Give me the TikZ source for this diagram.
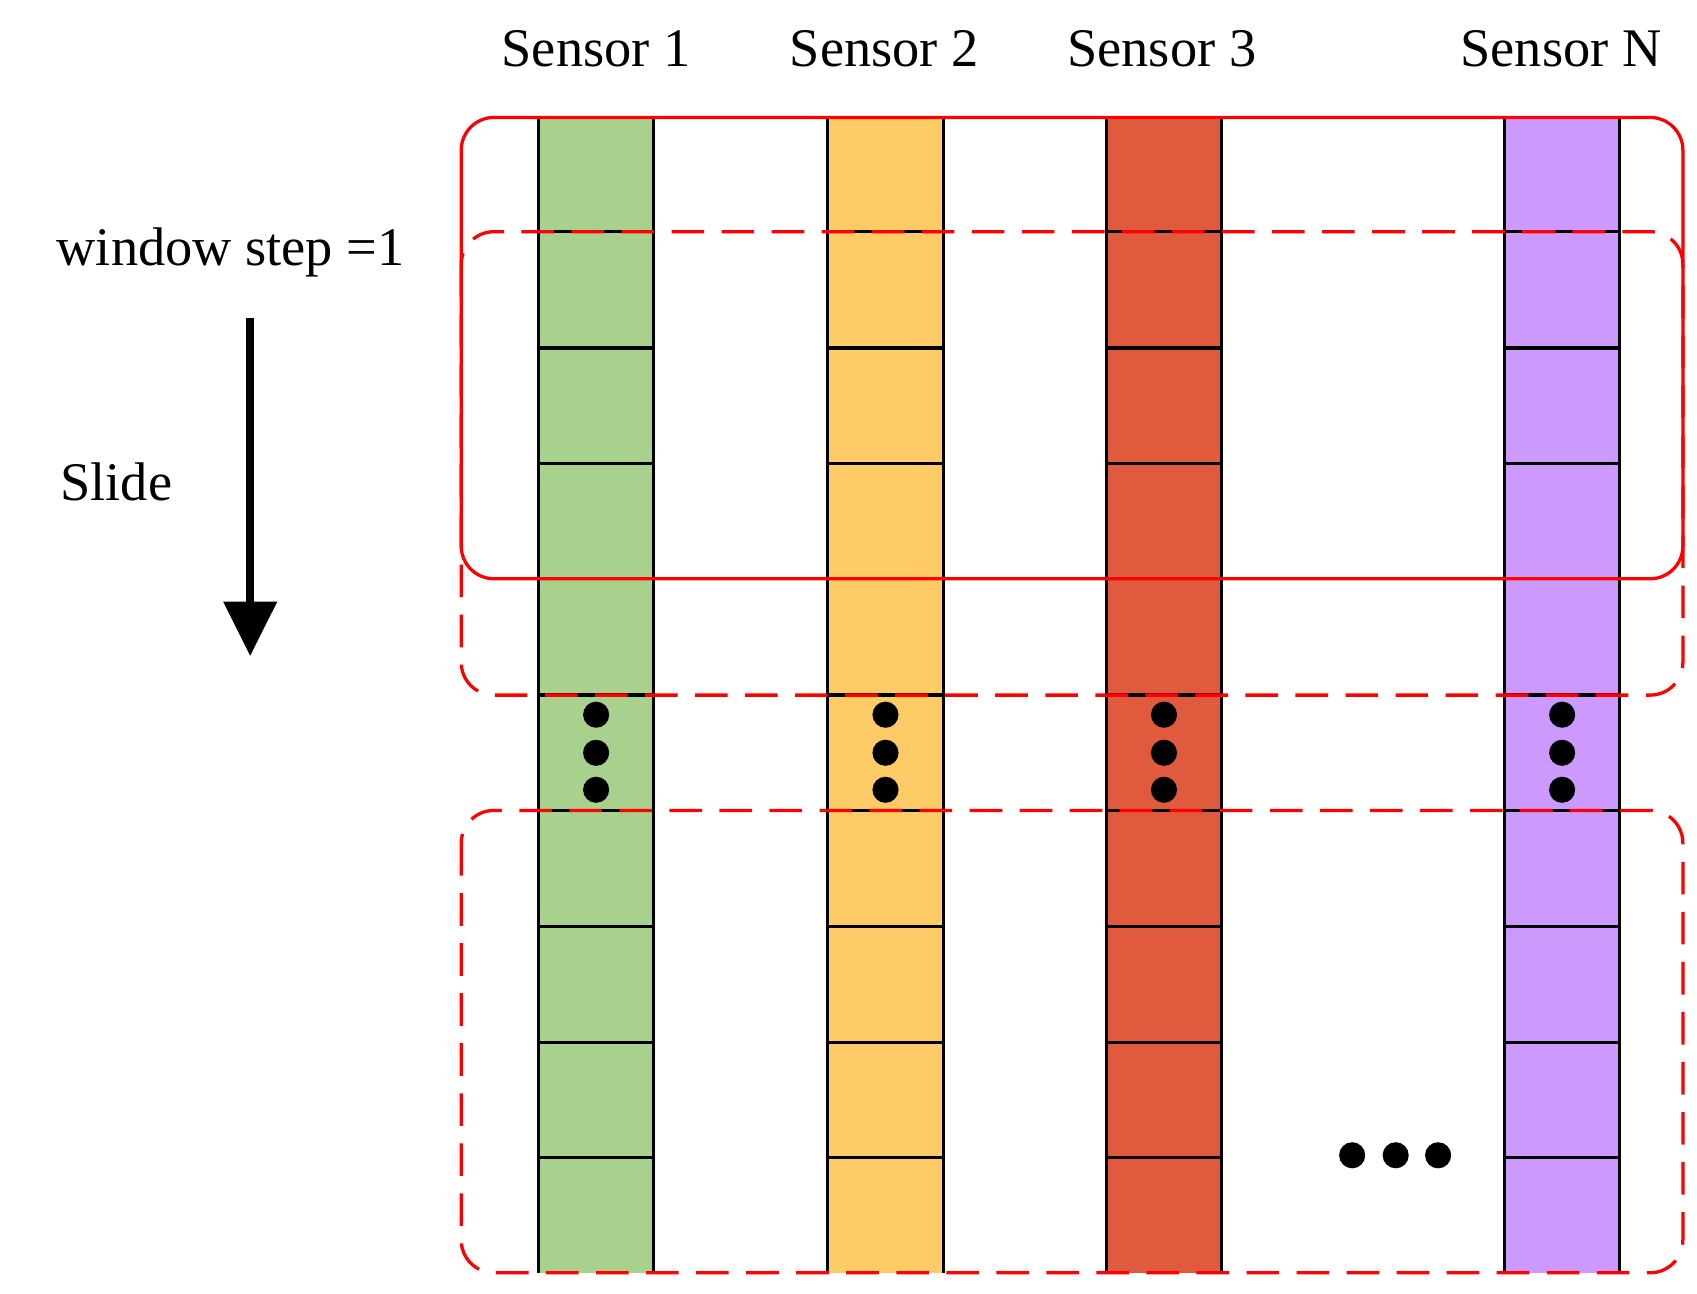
\documentclass[tikz,border=0pt]{standalone}
\usepackage{fontspec}
\setmainfont{Liberation Serif}
\usetikzlibrary{arrows.meta}
\definecolor{cg}{HTML}{A9D18E}
\definecolor{cy}{HTML}{FECB66}
\definecolor{cr}{HTML}{E05A3D}
\definecolor{cp}{HTML}{CC99FF}
\begin{document}
\begin{tikzpicture}[x=1pt,y=-1pt,
  lab/.style={font=\fontsize{50}{50}\selectfont,inner sep=0pt},
  win/.style={draw=red,line width=3pt,rounded corners=30pt},
  dsh/.style={win,dash pattern=on 30pt off 16pt},
  dot/.style={fill=black,circle,minimum size=24pt,inner sep=0pt}]
\useasboundingbox (0,0) rectangle (1560,1189);
\foreach \x/\c/\n in {495/cg/a,761/cy/b,1017/cr/c,1383/cp/d}{
  \fill[\c] (\x,108) rectangle ++(106,1062);
  \foreach \y in {213,320,426,532,639,745,852,958,1064}
    \draw[line width=3pt] (\x,\y) -- ++(106,0);
  \draw[line width=3pt] (\x,108) -- (\x,1170) (\x+106,108) -- (\x+106,1170);
  \foreach \y/\k in {657/1,692/2,726/3}
    \node[dot] (\n\k) at (\x+53,\y) {};
}
\draw[win] (424,108) rectangle (1547,532);
\draw[dsh] (424,213) rectangle (1547,639);
\draw[dsh] (424,745) rectangle (1547,1170);
\node[dot] (h1) at (1243,1062) {};
\node[dot] (h2) at (1283,1062) {};
\node[dot] (h3) at (1322,1062) {};
\node[lab] (s1) at (548,45) {Sensor 1};
\node[lab] (s2) at (813,45) {Sensor 2};
\node[lab] (s3) at (1068,45) {Sensor 3};
\node[lab] (sn) at (1435,45) {Sensor N};
\node[lab] (ws) at (212,232) {window step =1};
\node[lab] (sl) at (107,443) {Slide};
\coordinate (a1) at (230,292);
\coordinate (a2) at (230,603);
\draw[line width=7pt,-{Triangle[width=48pt,length=50pt]}] (a1) -- (a2);
\end{tikzpicture}
\end{document}
